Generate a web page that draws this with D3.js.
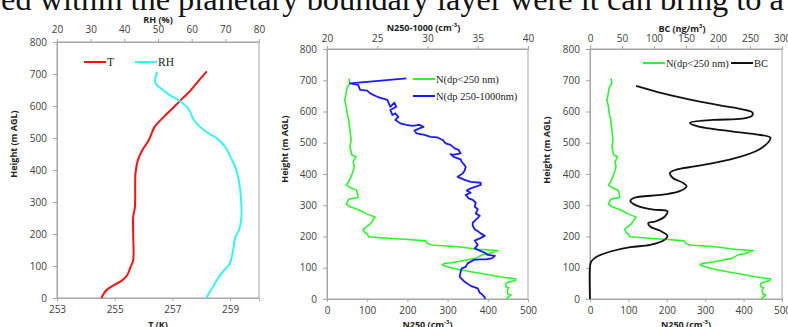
<!DOCTYPE html>
<html>
<head>
<meta charset="utf-8">
<script src="https://cdn.jsdelivr.net/npm/d3@7"></script>
<style>
  body { margin: 0; background: #fff; }
  .tick text { font-family: "Open Sans", sans-serif; font-size: 10px; fill: #404040; }
  .axis-title { font-family: "Open Sans", sans-serif; font-size: 9px; font-weight: bold; fill: #222; }
  .legend { font-family: "Liberation Serif", serif; fill: #222; }
</style>
</head>
<body>
<div id="chart"></div>
<script>
// tick values
const heightTicks = [0, 100, 200, 300, 400, 500, 600, 700, 800];
const tTicks = [253, 255, 257, 259];
const rhTicks = [20, 30, 40, 50, 60, 70, 80];
const n250Ticks = [0, 100, 200, 300, 400, 500];
const nLargeTicks = [20, 25, 30, 35, 40];
const bcTicks = [0, 50, 100, 150, 200, 250, 300];

// panel 1: temperature (K) and RH (%)
const tHeight = [0, 24, 40, 55, 71, 97, 118, 201, 253, 284, 389, 430, 461, 493, 534, 566, 597, 623, 649, 680, 708];
const tK = [254.54, 254.71, 254.97, 255.26, 255.43, 255.55, 255.64, 255.64, 255.64, 255.70, 255.72, 255.80, 255.95, 256.18, 256.38, 256.70, 257.05, 257.34, 257.63, 257.92, 258.19];
const rhHeight = [0, 14, 40, 66, 86, 107, 149, 191, 211, 243, 305, 368, 409, 441, 472, 498, 514, 534, 560, 576, 597, 618, 633, 649, 665, 675, 706];
const rhPct = [64.4, 65.1, 66.6, 68.1, 69.6, 71.3, 72.3, 73.0, 74.0, 74.7, 74.7, 74.0, 73.0, 71.5, 70.0, 67.6, 65.1, 62.6, 60.4, 59.8, 58.6, 56.1, 53.6, 51.6, 49.65, 49.15, 49.65];

// N(dp<250 nm), cm-3 (panels 2 and 3)
const n250Height = [0, 2, 13, 16, 27, 36, 39, 50, 53, 59, 64, 67, 71, 80, 87, 95, 103, 109, 114, 116, 123, 130, 141, 146, 155, 159, 167, 173, 178, 186, 191, 196, 199, 208, 213, 222, 229, 237, 248, 262, 274, 283, 295, 304, 319, 325, 333, 349, 357, 365, 375, 402, 423, 439, 455, 461, 487, 509, 541, 573, 594, 615, 637, 647, 677, 690, 706];
const n250 = [450, 448, 458, 450, 448, 452, 445, 445, 450, 468, 470, 455, 430, 392, 358, 325, 300, 287, 292, 310, 340, 370, 385, 405, 425, 375, 326, 260, 250, 245, 195, 135, 104, 100, 94, 90, 96, 105, 112, 120, 96, 83, 58, 48, 54, 77, 77, 73, 57, 48, 54, 63, 68, 65, 72, 62, 57, 60, 57, 54, 50, 48, 44, 46, 50, 57, 55];

// N(dp 250-1000 nm), cm-3 (panel 2 top axis)
const nLargeHeight = [0, 5, 16, 20, 34, 42, 55, 71, 87, 98, 103, 114, 125, 127, 127, 130, 138, 141, 148, 155, 162, 173, 187, 194, 202, 210, 219, 223, 234, 244, 253, 266, 274, 287, 295, 308, 317, 322, 333, 340, 347, 354, 365, 372, 375, 381, 391, 402, 411, 423, 432, 439, 447, 455, 464, 461, 466, 477, 482, 493, 498, 509, 517, 519, 525, 530, 539, 546, 551, 557, 554, 557, 562, 573, 583, 594, 589, 605, 615, 628, 615, 637, 642, 647, 658, 667, 669, 677, 685, 690, 706];
const nLarge = [35.7, 35.7, 35.4, 35.2, 35.0, 34.3, 33.7, 33.2, 33.3, 33.4, 33.8, 34.0, 34.6, 35.2, 35.8, 36.4, 36.7, 36.0, 35.7, 35.2, 34.7, 35.0, 34.7, 35.2, 35.7, 35.3, 34.9, 34.7, 34.5, 34.5, 34.8, 35.2, 34.8, 35.0, 34.7, 34.8, 34.5, 34.1, 33.8, 34.3, 33.9, 34.3, 35.3, 35.3, 34.3, 33.7, 33.0, 33.5, 33.7, 33.8, 33.6, 33.4, 33.3, 32.6, 32.3, 32.5, 33.3, 33.1, 32.7, 32.3, 31.8, 31.5, 31.0, 30.3, 29.7, 28.9, 28.7, 29.2, 29.6, 29.2, 28.5, 27.9, 27.3, 26.8, 27.1, 26.8, 26.5, 26.3, 26.9, 26.7, 26.3, 26.0, 25.5, 25.0, 24.3, 24.0, 23.3, 23.2, 23.1, 22.3, 27.9];

// BC, ng/m3 (panel 3 top axis)
const bcHeight = [0, 104, 120, 136, 152, 166, 173, 190, 202, 219, 232, 243, 248, 264, 281, 286, 299, 313, 323, 334, 345, 361, 372, 388, 404, 414, 425, 446, 473, 500, 516, 527, 537, 554, 564, 573, 577, 586, 596, 607, 618, 634, 658, 682];
const bcConc = [0, 0, 2, 11, 32, 63, 94, 117, 121, 109, 94, 91, 102, 117, 121, 99, 73, 63, 68, 114, 140, 151, 145, 129, 125, 135, 166, 218, 259, 278, 282, 259, 218, 166, 156, 192, 238, 253, 254, 238, 207, 166, 114, 72];

const width = 788, height = 327;
const svg = d3.select('#chart').append('svg')
  .attr('width', width)
  .attr('height', height)
  .style('display', 'block');

// clipped line of body text above the figure
svg.append('text')
  .attr('x', 1)
  .attr('y', 9.5)
  .attr('textLength', 783)
  .attr('lengthAdjust', 'spacing')
  .style('font-family', '"Liberation Serif", serif')
  .style('font-size', '32.4px')
  .style('fill', '#111')
  .text('ed within the planetary boundary layer were it can bring to a');

function addTitle(g, x, y, parts, rotate) {
  const t = g.append('text')
    .attr('class', 'axis-title')
    .attr('text-anchor', 'middle')
    .attr('transform', 'translate(' + x + ',' + y + ')' + (rotate ? ' rotate(-90)' : ''));
  parts.forEach(p => {
    const s = t.append('tspan').text(p[0]);
    if (p[1]) s.attr('baseline-shift', 'super').style('font-size', '6px');
  });
}

function styleAxis(sel) {
  sel.select('.domain').attr('stroke', '#a6a6a6');
  sel.selectAll('.tick line').attr('stroke', '#a6a6a6');
}

function drawPanel(p) {
  const g = svg.append('g');
  const y = d3.scaleLinear().domain([0, 800]).range([p.bottom, p.top]);
  const xb = d3.scaleLinear().domain(p.bottomDomain).range([p.left, p.right]);
  const xt = d3.scaleLinear().domain(p.topDomain).range([p.left, p.right]);

  // frame
  g.append('rect')
    .attr('x', p.left).attr('y', p.top)
    .attr('width', p.right - p.left).attr('height', p.bottom - p.top)
    .attr('fill', 'none').attr('stroke', '#a6a6a6');

  g.append('g')
    .attr('transform', 'translate(' + p.left + ',0)')
    .call(d3.axisLeft(y).tickValues(heightTicks).tickSize(4).tickPadding(6))
    .call(styleAxis);
  g.append('g')
    .attr('transform', 'translate(0,' + p.bottom + ')')
    .call(d3.axisBottom(xb).tickValues(p.bottomTicks).tickFormat(d3.format('d')).tickSize(3).tickPadding(5))
    .call(styleAxis);
  g.append('g')
    .attr('transform', 'translate(0,' + p.top + ')')
    .call(d3.axisTop(xt).tickValues(p.topTicks).tickFormat(d3.format('d')).tickSize(3).tickPadding(p.topPad))
    .call(styleAxis);

  const mid = (p.left + p.right) / 2;
  addTitle(g, mid + p.topTitleDx, p.topTitleY, p.topTitle);
  addTitle(g, mid, 328, p.bottomTitle);
  addTitle(g, p.yTitleX, p.yTitleY, [['Height (m AGL)']], true);

  p.series.forEach(s => {
    const sx = s.axis === 'top' ? xt : xb;
    const line = d3.line()
      .x(i => sx(s.values[i]))
      .y(i => y(s.heights[i]))
      .curve(s.smooth ? d3.curveCatmullRom.alpha(0.5) : d3.curveLinear);
    g.append('path')
      .datum(d3.range(s.values.length))
      .attr('fill', 'none')
      .attr('stroke', s.color)
      .attr('stroke-width', s.width)
      .attr('stroke-linejoin', 'round')
      .attr('d', line);
  });

  // legend
  p.legend.forEach(l => {
    g.append('line')
      .attr('x1', l.x).attr('x2', l.x + 22)
      .attr('y1', l.y).attr('y2', l.y)
      .attr('stroke', l.color).attr('stroke-width', 2);
    g.append('text')
      .attr('class', 'legend')
      .attr('x', l.x + 23).attr('y', l.y + 4)
      .style('font-size', p.legendSize + 'px')
      .text(l.label);
  });
}

const green = '#2cf52c', blue = '#1a1aff';

drawPanel({
  left: 57, right: 259, top: 42, bottom: 298,
  bottomDomain: [253, 260], topDomain: [20, 80],
  bottomTicks: tTicks, topTicks: rhTicks, topPad: 5.7,
  topTitle: [['RH (%)']], topTitleY: 23, topTitleDx: 0,
  bottomTitle: [['T (K)']],
  yTitleX: 17, yTitleY: 144,
  series: [
    { heights: tHeight, values: tK, axis: 'bottom', color: '#ff1010', width: 2, smooth: true },
    { heights: rhHeight, values: rhPct, axis: 'top', color: '#33f5f5', width: 2, smooth: true }
  ],
  legendSize: 11.5,
  legend: [
    { x: 84, y: 62, color: '#ff1010', label: 'T' },
    { x: 135, y: 62, color: '#33f5f5', label: 'RH' }
  ]
});

drawPanel({
  left: 327, right: 528, top: 49, bottom: 299,
  bottomDomain: [0, 500], topDomain: [20, 40],
  bottomTicks: n250Ticks, topTicks: nLargeTicks, topPad: 4.3,
  topTitle: [['N250-1000 (cm'], ['-3', true], [')']], topTitleY: 30.5, topTitleDx: -4,
  bottomTitle: [['N250 (cm'], ['-3', true], [')']],
  yTitleX: 288, yTitleY: 149,
  series: [
    { heights: n250Height, values: n250, axis: 'bottom', color: green, width: 1.6 },
    { heights: nLargeHeight, values: nLarge, axis: 'top', color: blue, width: 1.8 }
  ],
  legendSize: 10.5,
  legend: [
    { x: 413, y: 79, color: green, label: 'N(dp<250 nm)' },
    { x: 413, y: 96, color: blue, label: 'N(dp 250-1000nm)' }
  ]
});

drawPanel({
  left: 590, right: 782, top: 49, bottom: 299,
  bottomDomain: [0, 500], topDomain: [0, 300],
  bottomTicks: n250Ticks, topTicks: bcTicks, topPad: 4.3,
  topTitle: [['BC (ng/m'], ['3', true], [')']], topTitleY: 31.5, topTitleDx: -4,
  bottomTitle: [['N250 (cm'], ['-3', true], [')']],
  yTitleX: 550, yTitleY: 150,
  series: [
    { heights: n250Height, values: n250, axis: 'bottom', color: green, width: 1.6 },
    { heights: bcHeight, values: bcConc, axis: 'top', color: '#111', width: 1.8, smooth: true }
  ],
  legendSize: 10.5,
  legend: [
    { x: 643, y: 63, color: green, label: 'N(dp<250 nm)' },
    { x: 731, y: 63, color: '#111', label: 'BC' }
  ]
});
</script>
</body>
</html>
